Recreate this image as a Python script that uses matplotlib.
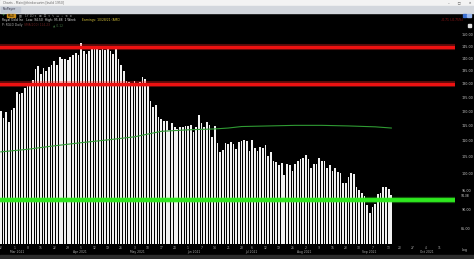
import numpy as np
import matplotlib.pyplot as plt
from matplotlib.patches import Rectangle
from matplotlib.ticker import FixedLocator, FixedFormatter, NullLocator

# ---------------------------------------------------------------
# Data (daily closes, log price scale)
# ---------------------------------------------------------------
closes = [
    120.0, 117.6, 119.7, 116.3, 120.4, 121.1, 126.9, 126.1, 126.5, 128.4,
    129.6, 130.3, 131.5, 135.8, 137.0, 133.8, 136.2, 135.0, 136.6, 137.4,
    139.0, 137.4, 140.6, 139.8, 139.8, 139.4, 140.6, 141.5, 142.3, 141.5,
    146.5, 143.1, 141.9, 143.1, 144.0, 144.0, 144.0, 143.6, 144.0, 143.6,
    144.0, 143.1, 141.9, 144.0, 139.8, 137.4, 135.0, 131.1, 130.7, 130.3,
    131.1, 130.3, 130.7, 132.6, 131.8, 130.3, 123.6, 121.4, 122.1, 118.0,
    117.3, 116.6, 116.6, 113.6, 115.9, 114.6, 113.9, 114.6, 114.6, 114.9,
    114.9, 115.3, 112.9, 114.6, 118.6, 115.9, 114.6, 116.3, 115.3, 111.3,
    114.9, 109.4, 106.5, 107.1, 109.4, 109.1, 109.7, 109.1, 107.5, 109.7,
    110.0, 110.3, 110.0, 106.8, 110.3, 107.8, 106.8, 108.1, 107.8, 108.7,
    105.3, 106.5, 103.7, 103.4, 102.5, 103.1, 99.5, 102.8, 102.5, 100.7,
    102.8, 103.7, 104.3, 104.6, 105.6, 104.3, 101.6, 102.8, 102.8, 104.6,
    103.7, 103.7, 101.6, 102.5, 100.7, 101.6, 100.4, 100.1, 97.2, 97.2,
    99.0, 100.1, 99.8, 96.1, 95.3, 94.4, 93.6, 91.2, 89.1, 90.7,
    91.5, 94.2, 94.4, 96.1, 96.1, 95.5, 93.9,
]

# moving average (thin green study line), sampled along the bars
ma_idx = [0, 10, 20, 30, 40, 50, 60, 70, 80, 85, 90, 100, 110, 120, 130, 140, 146]
ma_val = [106.5, 107.3, 108.4, 109.4, 110.3, 111.3, 113.1, 113.6, 113.9, 114.2,
          114.7, 114.9, 115.1, 115.1, 114.9, 114.6, 114.2]

resistance = [144.8, 129.9]
support = 92.6
last_price = "94.38"

price_ticks = [85, 90, 95, 100, 105, 110, 115, 120, 125, 130, 135, 140, 145, 150]

week_pos = [0, 5, 10, 15, 20, 25, 30, 35, 40, 45, 50, 55, 60, 65, 70, 75, 80, 85,
            90, 94, 99, 104, 109, 114, 119, 124, 129, 134, 139, 145, 149, 154, 159, 164]
week_lbl = ["22", "1", "8", "15", "22", "29", "5", "12", "19", "26", "3", "10",
            "17", "24", "1", "7", "14", "21", "28", "6", "12", "19", "26", "2",
            "9", "16", "23", "30", "7", "13", "20", "27", "4", "11"]
month_pos = [6, 29.6, 51, 72, 93.6, 113.4, 137.7, 159.4]
month_lbl = ["Mar 2021", "Apr 2021", "May 2021", "Jun 2021",
             "Jul 2021", "Aug 2021", "Sep 2021", "Oct 2021"]

W, H = 474, 259
fig = plt.figure(figsize=(W / 100, H / 100), dpi=100, facecolor="black")

# ---------------------------------------------------------------
# Price pane
# ---------------------------------------------------------------
ax = fig.add_axes([0, (H - 244) / H, 455 / W, 214 / H])
ax.set_facecolor("black")
ax.set_yscale("log")
ax.set_ylim(81.3, 152.2)
ax.set_xlim(-0.3, 169.8)

x = np.arange(len(closes))
base = 70.0
ax.bar(x, np.array(closes) - base, bottom=base, width=0.64,
       color="#f2f2f2", linewidth=0, zorder=2)

ax.plot(ma_idx, ma_val, color="#2f9a33", lw=0.8, zorder=3)

for lvl in resistance:
    ax.axhline(lvl, color="#ff2020", lw=4.4, alpha=0.35, zorder=4)
    ax.axhline(lvl, color="#ee1111", lw=2.3, zorder=4)
ax.axhline(support, color="#3cff2a", lw=4.5, alpha=0.35, zorder=4)
ax.axhline(support, color="#2ee81e", lw=2.8, zorder=4)

for s in ax.spines.values():
    s.set_visible(False)

ax.yaxis.tick_right()
ax.yaxis.set_major_locator(FixedLocator(price_ticks))
ax.yaxis.set_major_formatter(FixedFormatter([f"{v:.2f}" for v in price_ticks]))
ax.yaxis.set_minor_locator(NullLocator())
ax.tick_params(axis="y", length=0, pad=4.5, labelsize=2.4, labelcolor="#c8c8c8")
ax.text(1.013, 93.7, last_price, transform=ax.get_yaxis_transform(),
        fontsize=2.2, color="#dddddd", va="center", ha="left")

ax.xaxis.set_major_locator(NullLocator())
for p, l in zip(week_pos, week_lbl):
    ax.text(p, -0.017, l, transform=ax.get_xaxis_transform(), fontsize=2.2,
            color="#aaaaaa", ha="center", va="center")
for p, l in zip(month_pos, month_lbl):
    ax.text(p, -0.036, l, transform=ax.get_xaxis_transform(), fontsize=2.2,
            color="#aaaaaa", ha="center", va="center")
ax.text(1.022, -0.03, "Log", transform=ax.transAxes, fontsize=2.4,
        color="#bbbbbb", ha="center", va="center")

# ---------------------------------------------------------------
# Window chrome / header rows
# ---------------------------------------------------------------
hd = fig.add_axes([0, 0, 1, 1], zorder=5)
hd.set_xlim(0, W)
hd.set_ylim(H, 0)
hd.axis("off")
hd.patch.set_alpha(0)

hd.add_patch(Rectangle((0, 0), W, 5.5, color="#f3f3f3"))
hd.add_patch(Rectangle((0, 5.5), W, 7, color="#d3d7dd"))
hd.add_patch(Rectangle((0, 254.5), W, 4.5, color="#2c2c2c"))

hd.text(3, 2.7, "Charts - Main@thinkorswim [build 1950]", fontsize=2.2,
        color="#666666", va="center")
hd.text(448, 2.7, "–       □       ×", fontsize=2.4, color="#444444", va="center")
hd.add_patch(Rectangle((1, 6.5), 19, 5, color="#bfc6d2"))
hd.text(2.5, 9, "TaxPayer", fontsize=2.2, color="#333344", va="center")

hd.text(3, 15.5, "+", fontsize=3, color="#55cc55", va="center", ha="center")
hd.add_patch(Rectangle((7, 14), 8, 3.2, color="#c88a1a"))
hd.text(11, 15.6, "RGLD", fontsize=1.8, color="black", va="center", ha="center")
hd.text(19, 15.6, "▦   1Y 1D ▾   ⊞  ☰  ▾  ✎  ▭  ⌁  ⟲  ⚙", fontsize=2.2,
        color="#9a9a9a", va="center")
hd.add_patch(Rectangle((463, 14), 3.5, 3.2, color="#3b6fd1"))
hd.add_patch(Rectangle((467.5, 14), 3.5, 3.2, color="#9ab8ee"))

hd.text(2, 20.3, "Royal Gold Inc   Low: 94.50  High: 95.88  1 Week",
        fontsize=2.2, color="#e0e0e0", va="center")
hd.text(82, 20.3, "Earnings: 10/28/21 (AMC)", fontsize=2.2, color="#d6c23a",
        va="center")
hd.text(441, 20.3, "-0.71 (-0.75%)", fontsize=2.2, color="#a01818", va="center")
hd.text(2, 25.3, "P: RGLD Daily", fontsize=2.2, color="#b0b0b0", va="center")
hd.text(24, 25.3, "SMA(200) 114.23", fontsize=2.2, color="#6a2020", va="center")
hd.text(53, 25.3, "▲ 0.12", fontsize=2.2, color="#3f6f3f", va="center")
hd.add_patch(Rectangle((468, 23.5), 3, 3, color="#dddddd"))

fig.savefig("out.png", dpi=100, facecolor="black")
